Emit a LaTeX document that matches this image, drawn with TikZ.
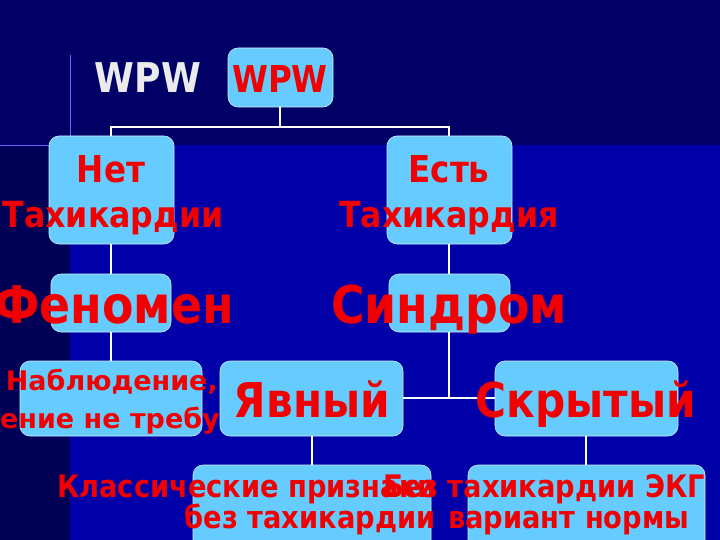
\documentclass[tikz,border=0pt]{standalone}
\usepackage{fontspec}
\setmainfont{DejaVu Sans}
\newfontfamily\nar{DejaVu Sans}[FakeStretch=0.88]
\begin{document}
\begin{tikzpicture}[x=1pt,y=-1pt,
  box/.style={draw=white!80!cyan,line width=0.6pt,fill=boxc,rounded corners=10pt},
  lab/.style={text=redc,font=\bfseries,inner sep=0pt,anchor=base},
  con/.style={draw=white,line width=1.6pt}]
\definecolor{boxc}{HTML}{66CCFF}
\definecolor{redc}{HTML}{F00000}
\definecolor{bgd}{HTML}{000066}
\definecolor{bgl}{HTML}{0000A8}
\useasboundingbox (0,0) rectangle (720,540);
\clip (0,0) rectangle (720,540);
\fill[bgd] (0,0) rectangle (720,540);
\fill[bgl] (70,145) rectangle (720,540);
\fill[bgd!85!black] (0,145) rectangle (70,540);
\draw[blue!60!white,line width=0.8pt] (70,55) -- (70,136) (0,145) -- (50,145);
% boxes
\draw[box] (228,48) rectangle (333,107);
\draw[box] (49,136) rectangle (174,244);
\draw[box] (387,136) rectangle (512,244);
\draw[box] (51,274) rectangle (171,332);
\draw[box] (389,274) rectangle (510,332);
\draw[box] (20,361) rectangle (202,436);
\draw[box] (220,361) rectangle (403,436);
\draw[box] (495,361) rectangle (678,436);
\draw[box] (193,465) rectangle (431,560);
\draw[box] (468,465) rectangle (705,560);
% connectors
\coordinate (bar) at (280,127);
\draw[con] (280,107) -- (bar) (111,136) |- (bar) -| (449,136);
\draw[con] (111,244) -- (111,274) (449,244) -- (449,274);
\draw[con] (111,332) -- (111,361);
\draw[con] (449,332) -- (449,398) (403,398) -- (495,398);
\draw[con] (312,436) -- (312,465) (586,436) -- (586,465);
% texts
\node[lab,text=white!92!black,font=\nar\bfseries\fontsize{41}{40}\selectfont] (tw) at (148,93) {WPW};
\node[lab,font=\nar\bfseries\fontsize{37}{40}\selectfont] (t0) at (280,93) {WPW};
\node[lab,font=\nar\bfseries\fontsize{37}{40}\selectfont] (t1) at (111,183) {Нет};
\node[lab,font=\nar\bfseries\fontsize{36}{40}\selectfont] (t2) at (113,228) {Тахикардии};
\node[lab,font=\nar\bfseries\fontsize{37}{40}\selectfont] (t3) at (449,183) {Есть};
\node[lab,font=\nar\bfseries\fontsize{36}{40}\selectfont] (t4) at (449,228) {Тахикардия};
\node[lab,font=\nar\bfseries\fontsize{52}{50}\selectfont] (t5) at (114,323) {Феномен};
\node[lab,font=\nar\bfseries\fontsize{52}{50}\selectfont] (t6) at (449,323) {Синдром};
\node[lab,anchor=base east,font=\bfseries\fontsize{27}{26}\selectfont] (t7) at (218,390) {Наблюдение,};
\node[lab,anchor=base east,font=\bfseries\fontsize{27}{26}\selectfont] (t8) at (220,428) {ение не требу};
\node[lab,font=\nar\bfseries\fontsize{48}{46}\selectfont] (t9) at (312,417) {Явный};
\node[lab,font=\nar\bfseries\fontsize{48}{46}\selectfont] (t10) at (586,417) {Скрытый};
\node[lab,anchor=base west,font=\nar\bfseries\fontsize{31}{30}\selectfont] (t11) at (57,497) {Классические признаки};
\node[lab,font=\nar\bfseries\fontsize{31}{30}\selectfont] (t12) at (310,528) {без тахикардии};
\node[lab,anchor=base west,font=\nar\bfseries\fontsize{31}{30}\selectfont] (t13) at (383,497) {Без тахикардии ЭКГ};
\node[lab,anchor=base west,font=\nar\bfseries\fontsize{31}{30}\selectfont] (t14) at (448,528) {вариант нормы};
\end{tikzpicture}
\end{document}
